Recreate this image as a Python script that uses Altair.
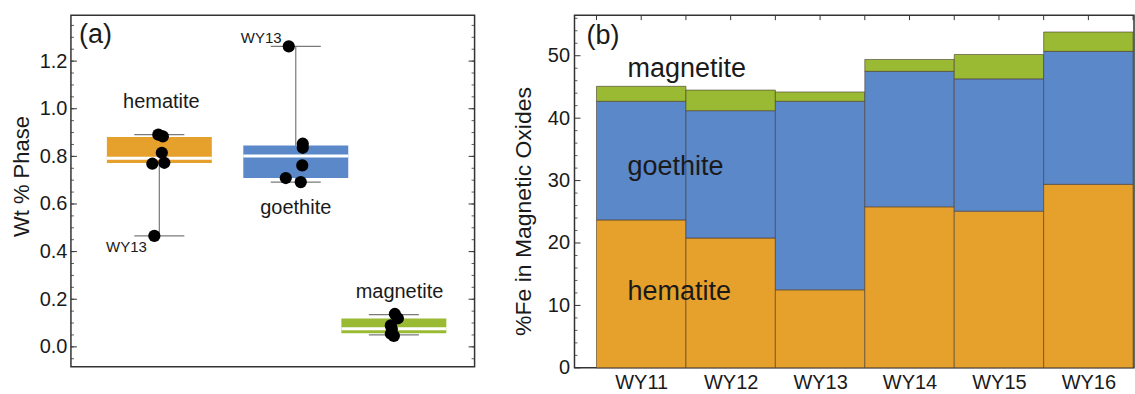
import altair as alt
import pandas as pd

FONT = "Liberation Sans"

# ---------------- data ----------------
PHASES = ["hematite", "goethite", "magnetite"]
YEARS = ["WY11", "WY12", "WY13", "WY14", "WY15", "WY16"]

# panel (a): Wt % phase of each sample
HEM_WT = [0.891, 0.884, 0.815, 0.769, 0.773, 0.466]
GOE_WT = [1.262, 0.853, 0.836, 0.762, 0.709, 0.692]
MAG_WT = [0.138, 0.120, 0.090, 0.075, 0.055, 0.046]

# box-whisker statistics per phase (hematite, goethite, magnetite)
BOX_Q1 = [0.772, 0.709, 0.057]
BOX_MED = [0.792, 0.802, 0.076]
BOX_Q3 = [0.881, 0.846, 0.119]
WHISK_LO = [0.466, 0.692, 0.050]
WHISK_HI = [0.891, 1.262, 0.135]

# panel (b): %Fe in magnetic oxides per water year
HEM_FE = [23.7, 20.8, 12.5, 25.8, 25.1, 29.4]
GOE_FE = [19.0, 20.4, 30.2, 21.7, 21.2, 21.3]
MAG_FE = [2.4, 3.3, 1.5, 1.9, 3.9, 3.1]

A_TICKS = [0.0, 0.2, 0.4, 0.6, 0.8, 1.0, 1.2]
B_TICKS = [0, 10, 20, 30, 40, 50]

# ---------------- layout / style ----------------
A_W, A_H = 404, 352
B_W, B_H = 560, 353
A_POS = [0.219, 0.557, 0.800]          # box centres in panel (a)
BOX_HALF = 0.13
CAP_HALF = 0.062
DX_PX = {                                 # horizontal jitter of dots, px
    "hematite": [-1, 3.5, 2.5, -7, 5, -5],
    "goethite": [-7, 7, 7, 6.5, -10, 5],
    "magnetite": [1, 4, -3, -2, -3, 0],
}
BOX_COLORS = ["#E6A02C", "#5B88C8", "#99BA32"]
BAR_COLORS = ["#E8A632", "#5C86C2", "#8DB83C"]
FRAME = "#333333"
TXT = "#1a1a1a"

# ================= panel (a) =================
xa_scale = alt.Scale(domain=[0, 1], nice=False, zero=False)
ya_scale = alt.Scale(domain=[-0.084, 1.393], nice=False, zero=False)
ya_axis = alt.Axis(
    values=A_TICKS, format=".1f", ticks=False, domain=False, grid=False,
    labelFontSize=20, labelColor=TXT, labelPadding=4, labelFont=FONT,
    title="Wt % Phase", titleFontSize=22, titleFontWeight="normal", titleColor=TXT,
    titleFont=FONT, titleAngle=270, titleBaseline="middle", titleAlign="center",
    titleX=-49, titleY=161,
)


def ya(field):
    return alt.Y(field, type="quantitative", scale=ya_scale, axis=ya_axis)


def xa(field):
    return alt.X(field, type="quantitative", scale=xa_scale, axis=None)


box_df = pd.DataFrame({
    "phase": PHASES, "pos": A_POS, "q1": BOX_Q1, "med": BOX_MED, "q3": BOX_Q3,
    "lo": WHISK_LO, "hi": WHISK_HI,
})
box_df["x1"] = box_df["pos"] - BOX_HALF
box_df["x2"] = box_df["pos"] + BOX_HALF
box_df["c1"] = box_df["pos"] - CAP_HALF
box_df["c2"] = box_df["pos"] + CAP_HALF

pts = []
for ph, pos, vals in zip(PHASES, A_POS, [HEM_WT, GOE_WT, MAG_WT]):
    for v, dx in zip(vals, DX_PX[ph]):
        pts.append({"phase": ph, "v": v, "px": pos + dx / A_W})
pts_df = pd.DataFrame(pts)

a_major = pd.DataFrame({"t": A_TICKS})
a_minor = pd.DataFrame({"t": [round(-0.05 + 0.05 * i, 2) for i in range(29)]})

a_tick_l = alt.Chart(a_major).mark_rule(color=FRAME, strokeWidth=1).encode(
    y=ya("t"), x=alt.value(0), x2=alt.value(6))
a_tick_r = alt.Chart(a_major).mark_rule(color=FRAME, strokeWidth=1).encode(
    y=ya("t"), x=alt.value(A_W - 6), x2=alt.value(A_W))
a_mtick_l = alt.Chart(a_minor).mark_rule(color=FRAME, strokeWidth=0.8).encode(
    y=ya("t"), x=alt.value(0), x2=alt.value(3))
a_mtick_r = alt.Chart(a_minor).mark_rule(color=FRAME, strokeWidth=0.8).encode(
    y=ya("t"), x=alt.value(A_W - 3), x2=alt.value(A_W))

whisk = alt.Chart(box_df).mark_rule(color="#7a7a7a", strokeWidth=1.2).encode(
    x=xa("pos"), y=ya("lo"), y2="hi")
cap_hi = alt.Chart(box_df).mark_rule(color="#7a7a7a", strokeWidth=1.2).encode(
    x=xa("c1"), x2="c2", y=ya("hi"))
cap_lo = alt.Chart(box_df).mark_rule(color="#7a7a7a", strokeWidth=1.2).encode(
    x=xa("c1"), x2="c2", y=ya("lo"))
boxes = alt.Chart(box_df).mark_rect().encode(
    x=xa("x1"), x2="x2", y=ya("q1"), y2="q3",
    color=alt.Color("phase:N", scale=alt.Scale(domain=PHASES, range=BOX_COLORS), legend=None))
medians = alt.Chart(box_df).mark_rule(color="white", strokeWidth=3).encode(
    x=xa("x1"), x2="x2", y=ya("med"))
dots = alt.Chart(pts_df).mark_circle(size=150, color="black", opacity=1).encode(
    x=xa("px"), y=ya("v"))

a_lab = pd.DataFrame({"text": PHASES, "tx": [0.224, 0.557, 0.814], "ty": [1.003, 0.557, 0.205]})
a_labels = alt.Chart(a_lab).mark_text(font=FONT, fontSize=20, color=TXT, align="center",
                                      baseline="alphabetic").encode(
    x=xa("tx"), y=ya("ty"), text="text:N")
a_small = pd.DataFrame({"text": ["WY13", "WY13"], "tx": [0.522, 0.188], "ty": [1.277, 0.399]})
a_small_labels = alt.Chart(a_small).mark_text(font=FONT, fontSize=15, color=TXT, align="right",
                                              baseline="alphabetic").encode(
    x=xa("tx"), y=ya("ty"), text="text:N")
a_panel = pd.DataFrame({"text": ["(a)"], "tx": [0.02], "ty": [1.276]})
a_panel_label = alt.Chart(a_panel).mark_text(font=FONT, fontSize=27, color=TXT, align="left",
                                             baseline="alphabetic").encode(
    x=xa("tx"), y=ya("ty"), text="text:N")

panel_a = alt.layer(
    a_mtick_l, a_mtick_r, a_tick_l, a_tick_r, whisk, cap_hi, cap_lo, boxes, medians, dots,
    a_labels, a_small_labels, a_panel_label,
).properties(width=A_W, height=A_H)

# ================= panel (b) =================
xb_scale = alt.Scale(domain=[0.254, 6.51], nice=False, zero=False)
yb_scale = alt.Scale(domain=[0, 56.5], nice=False, zero=False)
label_expr = "[" + ",".join("'%s'" % y for y in YEARS) + "][datum.value - 1]"
xb_axis = alt.Axis(
    values=list(range(1, len(YEARS) + 1)), labelExpr=label_expr, ticks=False, domain=False,
    grid=False, labelFontSize=20, labelColor=TXT, labelPadding=5, labelFont=FONT, title="",
)
yb_axis = alt.Axis(
    values=B_TICKS, ticks=False, domain=False, grid=False,
    labelFontSize=20, labelColor=TXT, labelPadding=5, labelFont=FONT,
    title="%Fe in Magnetic Oxides", titleFontSize=23, titleFontWeight="normal", titleColor=TXT,
    titleFont=FONT, titleAngle=270, titleBaseline="middle", titleAlign="center",
    titleX=-51, titleY=196,
)


def yb(field):
    return alt.Y(field, type="quantitative", scale=yb_scale, axis=yb_axis)


def xb(field):
    return alt.X(field, type="quantitative", scale=xb_scale, axis=xb_axis)


rows = []
for i, yr in enumerate(YEARS):
    base = 0.0
    for ph, vals in zip(PHASES, [HEM_FE, GOE_FE, MAG_FE]):
        rows.append({"year": yr, "phase": ph, "x1": i + 0.5, "x2": i + 1.5,
                     "lo": base, "hi": base + vals[i]})
        base += vals[i]
bars_df = pd.DataFrame(rows)

b_major = pd.DataFrame({"t": B_TICKS})
b_minor = pd.DataFrame({"t": [t for t in range(0, 57, 2) if t % 10]})
b_top = pd.DataFrame({"t": [0.5 + 0.5 * k for k in range(13)]})

b_tick_l = alt.Chart(b_major).mark_rule(color=FRAME, strokeWidth=1).encode(
    y=yb("t"), x=alt.value(0), x2=alt.value(6))
b_mtick_l = alt.Chart(b_minor).mark_rule(color=FRAME, strokeWidth=0.8).encode(
    y=yb("t"), x=alt.value(0), x2=alt.value(3))
b_tick_top = alt.Chart(b_top).mark_rule(color=FRAME, strokeWidth=1).encode(
    x=xb("t"), y=alt.value(0), y2=alt.value(5))

bars = alt.Chart(bars_df).mark_rect(stroke="#4a3a30", strokeWidth=0.8, strokeOpacity=0.75).encode(
    x=xb("x1"), x2="x2", y=yb("lo"), y2="hi",
    color=alt.Color("phase:N", scale=alt.Scale(domain=PHASES, range=BAR_COLORS), legend=None))

b_lab = pd.DataFrame({"text": ["magnetite", "goethite", "hematite"],
                      "tx": [0.846, 0.846, 0.846], "ty": [46.6, 30.9, 10.9]})
b_labels = alt.Chart(b_lab).mark_text(font=FONT, fontSize=27, color=TXT, align="left",
                                      baseline="alphabetic").encode(
    x=xb("tx"), y=yb("ty"), text="text:N")
b_panel = pd.DataFrame({"text": ["(b)"], "tx": [0.388], "ty": [51.9]})
b_panel_label = alt.Chart(b_panel).mark_text(font=FONT, fontSize=27, color=TXT, align="left",
                                             baseline="alphabetic").encode(
    x=xb("tx"), y=yb("ty"), text="text:N")

panel_b = alt.layer(
    b_mtick_l, b_tick_l, b_tick_top, bars, b_labels, b_panel_label,
).properties(width=B_W, height=B_H)

chart = alt.hconcat(panel_a, panel_b, spacing=35).properties(
    padding={"left": 10, "top": 13, "right": 0, "bottom": 0},
    background="white",
).configure_view(stroke=FRAME, strokeWidth=1.5)

chart.save("out.html", embed_options={"renderer": "svg", "actions": False})
